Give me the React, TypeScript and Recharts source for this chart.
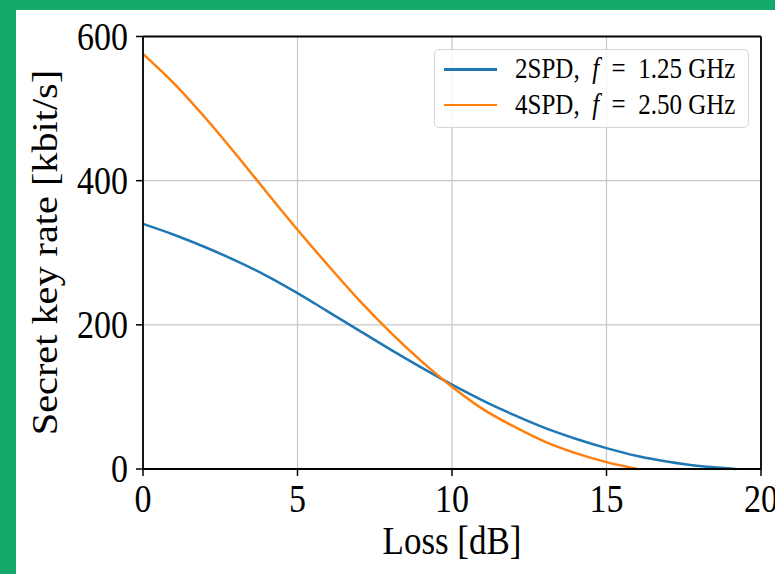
import React from 'react';
import { LineChart, Line, XAxis, YAxis, CartesianGrid, ReferenceLine } from 'recharts';

// loss values (dB) and secret key rates (kbit/s)
const loss2SPD = [0, 1, 2, 3, 4, 5, 6, 7, 8, 9, 10, 11, 12, 13, 14, 15, 16, 17, 18, 19, 19.2];
const rate2SPD = [340, 325, 308, 289, 268, 244, 218, 192, 166, 141, 117, 95, 75, 57, 42, 29, 18, 10, 4, 0.8, 0];

const loss4SPD = [0, 1, 2, 3, 4, 5, 6, 7, 8, 9, 10, 11, 12, 13, 14, 15, 16];
const rate4SPD = [576, 535, 488, 437, 384, 332, 282, 234, 190, 150, 114, 83, 59, 38, 22, 9.5, 0];

const xTicks = [0, 5, 10, 15, 20];
const yTicks = [0, 200, 400, 600];

const series = [
  { name: '2SPD', freq: '1.25', color: '#1f77b4', loss: loss2SPD, rate: rate2SPD },
  { name: '4SPD', freq: '2.50', color: '#ff7f0e', loss: loss4SPD, rate: rate4SPD },
];

const FONT = '"Liberation Serif", "DejaVu Serif", serif';
const STRETCH = 1.15;

const YTick = ({ x, y, payload }: any) => (
  <g transform={`translate(${x},${y}) scale(1,${STRETCH})`}>
    <text x={0} y={0} dy="0.34em" textAnchor="end" fontFamily={FONT} fontSize={34} fill="#000">
      {payload.value}
    </text>
  </g>
);

const XTick = ({ x, y, payload }: any) => (
  <g transform={`translate(${x},${y}) scale(1,${STRETCH})`}>
    <text x={0} y={0} dy="0.68em" textAnchor="middle" fontFamily={FONT} fontSize={34} fill="#000">
      {payload.value}
    </text>
  </g>
);

export default function App() {
  const tables = series.map((s) => s.loss.map((l, i) => ({ loss: l, rate: s.rate[i] })));

  return (
    <div style={{ position: 'absolute', left: 0, top: 0, width: 775, height: 574, background: '#13a96b', overflow: 'hidden' }}>
      <div style={{ position: 'absolute', left: 16, top: 10, width: 759, height: 564, background: '#fff' }}>
        <LineChart width={759} height={564} margin={{ top: 26.5, right: 14, left: 0, bottom: 0 }}>
          <CartesianGrid stroke="#c8c8c8" strokeWidth={1.2} />
          <XAxis
            dataKey="loss"
            type="number"
            domain={[0, 20]}
            ticks={xTicks}
            height={105}
            tickSize={7}
            tickMargin={9}
            tick={<XTick />}
            axisLine={{ stroke: '#000', strokeWidth: 1.8 }}
            tickLine={{ stroke: '#000', strokeWidth: 1.5 }}
            allowDuplicatedCategory={false}
            label={{
              content: () => (
                <text
                  transform={`translate(436,544) scale(1,${STRETCH})`}
                  textAnchor="middle"
                  fontFamily={FONT}
                  fontSize={35}
                  fill="#000"
                >
                  Loss [dB]
                </text>
              ),
            }}
          />
          <YAxis
            dataKey="rate"
            type="number"
            domain={[0, 600]}
            ticks={yTicks}
            width={127}
            tickSize={7}
            tickMargin={8}
            tick={<YTick />}
            axisLine={{ stroke: '#000', strokeWidth: 1.8 }}
            tickLine={{ stroke: '#000', strokeWidth: 1.5 }}
            label={{
              content: () => (
                <text
                  transform={`translate(41,242.5) rotate(-90) scale(${STRETCH},1)`}
                  textAnchor="middle"
                  fontFamily={FONT}
                  fontSize={35}
                  fill="#000"
                >
                  Secret key rate [kbit/s]
                </text>
              ),
            }}
          />
          {series.map((s, i) => (
            <Line
              key={s.name}
              data={tables[i]}
              dataKey="rate"
              name={s.name}
              type="monotone"
              stroke={s.color}
              strokeWidth={2.5}
              dot={false}
              isAnimationActive={false}
            />
          ))}
          <ReferenceLine y={600} stroke="#000" strokeWidth={1.8} />
          <ReferenceLine x={20} stroke="#000" strokeWidth={1.8} />
        </LineChart>

        {/* legend box, upper right inside the axes */}
        <div
          style={{
            position: 'absolute',
            left: 418,
            top: 38.5,
            width: 313,
            height: 77,
            border: '1px solid #d6d6d6',
            borderRadius: 5,
            background: 'rgba(255,255,255,0.8)',
            fontFamily: FONT,
            fontSize: 25,
            color: '#000',
          }}
        >
          {series.map((s, i) => (
            <div key={s.name} style={{ position: 'absolute', left: 0, top: i === 0 ? 20 : 55.5, width: '100%' }}>
              <div style={{ position: 'absolute', left: 9, top: -1.3, width: 53, height: 2.6, background: s.color }} />
              <div
                style={{
                  position: 'absolute',
                  left: 80,
                  top: -15.5,
                  whiteSpace: 'pre',
                  lineHeight: '30px',
                  transform: `scaleY(${STRETCH})`,
                }}
              >
                {s.name},  <i>f</i>{'\u2002=\u2002'}{s.freq} GHz
              </div>
            </div>
          ))}
        </div>
      </div>
    </div>
  );
}
